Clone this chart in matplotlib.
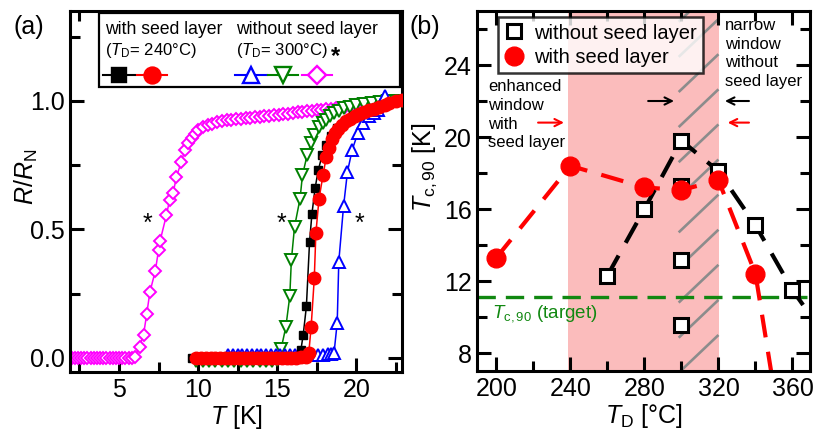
import numpy as np
import matplotlib
matplotlib.use("Agg")
import matplotlib.pyplot as plt
from matplotlib.ticker import MultipleLocator
from matplotlib.lines import Line2D
from matplotlib.patches import Rectangle

plt.rcParams['font.family'] = ['Liberation Sans', 'DejaVu Sans']
plt.rcParams['mathtext.fontset'] = 'custom'
plt.rcParams['mathtext.rm'] = 'Liberation Sans'
plt.rcParams['mathtext.it'] = 'Liberation Sans:italic'
plt.rcParams['mathtext.bf'] = 'Liberation Sans:bold'

# ---- panel (a): R/R_N vs T ----
# with seed layer (T_D = 240 C)
T_sq = [9.6, 10.0, 10.4, 10.8, 11.2, 11.6, 12.0, 12.4, 12.8, 13.2, 13.6, 14.0, 14.4, 14.8,
        15.2, 15.6, 16.0, 16.3, 16.5, 16.65, 16.85, 17.05, 17.2, 17.4, 17.6, 17.85, 18.1,
        18.4, 18.8, 19.3, 19.8, 20.4, 21.0, 21.6, 22.2, 22.9]
R_sq = [0.0, 0.0, 0.0, 0.0, 0.0, 0.0, 0.0, 0.0, 0.0, 0.0, 0.0, 0.0, 0.0, 0.0,
        0.0, 0.0, 0.0, 0.005, 0.03, 0.09, 0.2, 0.45, 0.56, 0.66, 0.73, 0.79, 0.83,
        0.865, 0.895, 0.92, 0.94, 0.957, 0.972, 0.985, 0.995, 1.005]

T_ci = [9.9, 10.2, 10.5, 10.8, 11.1, 11.4, 11.7, 12.0, 12.3, 12.6, 12.9, 13.2, 13.5, 13.8,
        14.1, 14.4, 14.7, 15.0, 15.3, 15.6, 15.9, 16.2, 16.5, 16.8, 17.0, 17.15, 17.35,
        17.45, 17.65, 17.9, 18.1, 18.25, 18.45, 18.65, 18.85, 19.1, 19.35, 19.6, 19.9,
        20.2, 20.5, 20.8, 21.1, 21.45, 21.8, 22.1, 22.5, 22.9]
R_ci = [0.0, 0.0, 0.0, 0.0, 0.0, 0.0, 0.0, 0.0, 0.0, 0.0, 0.0, 0.0, 0.0, 0.0,
        0.0, 0.0, 0.0, 0.0, 0.0, 0.0, 0.0, 0.0, 0.002, 0.005, 0.018, 0.12, 0.31,
        0.485, 0.62, 0.71, 0.78, 0.815, 0.85, 0.874, 0.89, 0.905, 0.92, 0.93, 0.94,
        0.948, 0.955, 0.963, 0.97, 0.978, 0.985, 0.992, 0.998, 1.005]

# without seed layer (T_D = 300 C)
T_up = [11.9, 12.2, 12.5, 12.8, 13.1, 13.4, 13.7, 14.0, 14.3, 14.6, 14.9, 15.2, 15.5,
        15.8, 16.1, 16.4, 16.7, 17.0, 17.3, 17.6, 17.9, 18.2, 18.4, 18.6, 18.8, 18.9,
        19.2, 19.45, 19.75, 20.1, 20.4, 20.8, 21.1, 21.35, 21.6, 21.85]
R_up = [0.01, 0.01, 0.01, 0.01, 0.01, 0.01, 0.01, 0.01, 0.01, 0.01, 0.01, 0.01, 0.01,
        0.01, 0.01, 0.01, 0.01, 0.01, 0.01, 0.012, 0.012, 0.014, 0.016, 0.02, 0.137, 0.375,
        0.59, 0.725, 0.81, 0.874, 0.913, 0.94, 0.952, 0.965, 0.99, 1.02]

T_dn = [9.9, 10.3, 10.7, 11.1, 11.5, 11.9, 12.3, 12.7, 13.1, 13.5, 13.9, 14.3, 14.7,
        15.0, 15.25, 15.55, 15.8, 15.9, 16.1, 16.45, 16.6, 16.9, 17.15, 17.35, 17.65,
        17.9, 18.1, 18.35, 18.6, 18.9, 19.25, 19.6, 20.0, 20.5, 21.0, 21.5, 22.0, 22.5, 22.9]
R_dn = [-0.013, -0.013, -0.013, -0.013, -0.013, -0.013, -0.013, -0.013, -0.013, -0.013,
        -0.013, -0.013, -0.013, -0.01, 0.035, 0.12, 0.24, 0.38, 0.51, 0.62, 0.71, 0.79,
        0.835, 0.868, 0.9, 0.915, 0.926, 0.94, 0.952, 0.962, 0.971, 0.978, 0.984, 0.988,
        0.992, 0.995, 0.998, 1.0, 1.0]

T_di = [2.0, 2.2, 2.4, 2.6, 2.8, 3.0, 3.2, 3.4, 3.6, 3.8, 4.0, 4.2, 4.4, 4.6, 4.8, 5.0,
        5.2, 5.4, 5.6, 5.8, 6.0, 6.3, 6.55, 6.75, 6.95, 7.3, 7.5, 7.6, 8.0, 8.2, 8.42,
        8.63, 8.95, 9.16, 9.37, 9.6, 9.8, 10.0, 10.3, 10.6, 10.9, 11.2, 11.5, 11.8, 12.1,
        12.4, 12.7, 13.0, 13.3, 13.6, 13.9, 14.2, 14.5, 14.8, 15.1, 15.4, 15.7, 16.0,
        16.3, 16.6, 16.9, 17.2, 17.5, 17.8, 18.1, 18.4, 18.7, 19.0, 19.3, 19.6, 19.9]
R_di = [0.0, 0.0, 0.0, 0.0, 0.0, 0.0, 0.0, 0.0, 0.0, 0.0, 0.0, 0.0, 0.0, 0.0, 0.0, 0.0,
        0.0, 0.0, 0.0, 0.0, 0.005, 0.044, 0.09, 0.17, 0.255, 0.34, 0.42, 0.456, 0.556,
        0.615, 0.64, 0.705, 0.764, 0.81, 0.835, 0.855, 0.87, 0.885, 0.897, 0.906, 0.912,
        0.917, 0.921, 0.924, 0.927, 0.929, 0.931, 0.933, 0.935, 0.937, 0.939, 0.941,
        0.943, 0.945, 0.947, 0.949, 0.951, 0.953, 0.955, 0.957, 0.959, 0.961, 0.963,
        0.965, 0.967, 0.969, 0.971, 0.973, 0.976, 0.979, 0.983]

# ---- panel (b): Tc,90 vs T_D ----
TD_noseed = [260, 280, 300, 300, 300, 300, 320, 340, 360]
Tc_noseed = [12.3, 16.0, 19.8, 17.3, 13.15, 9.55, 18.1, 15.1, 11.5]
TD_noseed_trend = [260, 280, 300, 320, 340, 360, 380]
Tc_noseed_trend = [12.3, 16.0, 19.8, 18.1, 15.1, 11.5, 8.6]

TD_seed = [200, 240, 280, 300, 320, 340]
Tc_seed = [13.3, 18.4, 17.2, 17.05, 17.6, 12.4]
TD_seed_trend = [200, 240, 280, 300, 320, 340, 350]
Tc_seed_trend = [13.3, 18.4, 17.2, 17.05, 17.6, 12.4, 6.0]

Tc_target = 11.1
window_seed = (238.5, 320.5)
window_noseed = (298.5, 320.0)

fig = plt.figure(figsize=(8.15, 4.3), dpi=100)
axa = fig.add_axes([0.0859, 0.1349, 0.4074, 0.8395])
axb = fig.add_axes([0.5853, 0.1372, 0.4086, 0.8372])

for ax in (axa, axb):
    for s in ax.spines.values():
        s.set_linewidth(2.2)
    ax.tick_params(which='both', direction='in', top=True, right=True,
                   labelsize=18, pad=4, width=2.2)
    ax.tick_params(which='major', length=10)
    ax.tick_params(which='minor', length=7)

# panel (a)
lw = 1.1
axa.plot(T_di, R_di, '-', color='#ff00ff', lw=lw, marker='D', ms=6.5, mfc='white',
         mec='#ff00ff', mew=1.4, zorder=2)
axa.plot(T_dn, R_dn, '-', color='#008000', lw=lw, marker='v', ms=8.5, mfc='white',
         mec='#008000', mew=1.4, zorder=3)
axa.plot(T_up, R_up, '-', color='#0000ff', lw=lw, marker='^', ms=8.5, mfc='white',
         mec='#0000ff', mew=1.4, zorder=3)
axa.plot(T_sq, R_sq, '-', color='black', lw=lw, marker='s', ms=6, mfc='black',
         mec='black', zorder=4)
axa.plot(T_ci, R_ci, '-', color='#ff0000', lw=lw, marker='o', ms=9, mfc='#ff0000',
         mec='#ff0000', zorder=5)

axa.set_xlim(1.9, 22.9)
axa.set_ylim(-0.055, 1.35)
axa.xaxis.set_major_locator(MultipleLocator(5))
axa.xaxis.set_minor_locator(MultipleLocator(2.5))
axa.yaxis.set_major_locator(MultipleLocator(0.5))
axa.yaxis.set_minor_locator(MultipleLocator(0.25))
axa.yaxis.set_major_formatter(matplotlib.ticker.FormatStrFormatter('%.1f'))
axa.set_xlabel(r'$T$ [K]', fontsize=18, labelpad=1)
axa.set_ylabel(r'$R/R_{\rm N}$', fontsize=18)
axa.yaxis.set_label_coords(-0.09, 0.54)

for tx, ty in [(6.8, 0.52), (15.3, 0.52), (20.2, 0.52)]:
    axa.text(tx, ty, '*', fontsize=18, ha='center', va='center', zorder=6)

# custom legend box for (a)
axa.add_patch(Rectangle((0.087, 0.789), 0.907, 0.205, transform=axa.transAxes,
                        fill=True, facecolor='white', edgecolor='black', lw=1.6, zorder=7))
fs_leg = 12.7
axa.text(0.105, 0.950, 'with seed layer', transform=axa.transAxes, fontsize=fs_leg,
         va='center', zorder=8)
axa.text(0.105, 0.890, r'($T_{\rm D}$= 240°C)', transform=axa.transAxes, fontsize=12,
         va='center', zorder=8)
axa.text(0.50, 0.950, 'without seed layer', transform=axa.transAxes, fontsize=fs_leg,
         va='center', zorder=8)
axa.text(0.50, 0.890, r'($T_{\rm D}$= 300°C)', transform=axa.transAxes,
         fontsize=12, va='center', zorder=8)
axa.text(0.80, 0.875, '*', transform=axa.transAxes, fontsize=17, fontweight='bold',
         va='center', ha='center', zorder=8)
samples = [((0.099, 0.196), 's', 'black', 'black', 9.5),
           ((0.202, 0.292), 'o', '#ff0000', '#ff0000', 11.5),
           ((0.497, 0.593), '^', '#0000ff', 'white', 11),
           ((0.596, 0.687), 'v', '#008000', 'white', 11),
           ((0.699, 0.789), 'D', '#ff00ff', 'white', 9)]
for (x0, x1), m, c, fc, ms in samples:
    axa.add_line(Line2D([x0, x1], [0.823, 0.823], color=c, lw=1.5,
                        transform=axa.transAxes, zorder=8))
    axa.add_line(Line2D([(x0 + x1) / 2], [0.823], marker=m, ms=ms, mfc=fc, mec=c, mew=1.7,
                        transform=axa.transAxes, zorder=9))

# panel (b)
axb.axvspan(*window_seed, color='#fbbcbc', lw=0, zorder=0)
y0s = np.arange(3.0, 29.0, 1.95)
for y0 in y0s:
    axb.plot(window_noseed, [y0, y0 + 2.1], color='#8c8c8c', lw=1.9, zorder=0.5,
             solid_capstyle='butt')
axb.axhline(Tc_target, color='#118811', lw=2.4, dashes=(5.5, 3), zorder=1)

axb.plot(TD_seed_trend, Tc_seed_trend, color='#ff0000', lw=3, dashes=(5.5, 3.5), zorder=2)
axb.plot(TD_noseed_trend, Tc_noseed_trend, color='black', lw=3, dashes=(5.5, 3.5), zorder=2)
axb.plot(TD_noseed, Tc_noseed, ls='none', marker='s', ms=10.5, mfc='white', mec='black',
         mew=2.2, zorder=3, label='without seed layer')
axb.plot(TD_seed, Tc_seed, ls='none', marker='o', ms=13.5, mfc='#ff0000', mec='#ff0000',
         zorder=4, label='with seed layer')

axb.set_xlim(189.5, 369.5)
axb.set_ylim(7, 27)
axb.xaxis.set_major_locator(MultipleLocator(40))
axb.xaxis.set_minor_locator(MultipleLocator(20))
axb.yaxis.set_major_locator(MultipleLocator(4))
axb.yaxis.set_minor_locator(MultipleLocator(2))
axb.set_xlabel(r'$T_{\rm D}$ [°C]', fontsize=18, labelpad=1)
axb.set_ylabel(r'$T_{\rm c,90}$ [K]', fontsize=18)
axb.yaxis.set_label_coords(-0.115, 0.565)

leg = axb.legend(loc='upper left', bbox_to_anchor=(0.063, 0.982), borderaxespad=0,
                 fontsize=14.5, frameon=True, fancybox=False, handlelength=1.0,
                 handletextpad=0.5, borderpad=0.3, labelspacing=0.25)
leg.get_frame().set_edgecolor('black')
leg.get_frame().set_linewidth(1.8)
leg.set_zorder(10)

axb.text(197.5, 10.2, r'$T_{\rm c,90}$ (target)', color='#118811', fontsize=13.5,
         va='center', ha='left')
axb.text(195.5, 23.2, 'enhanced\nwindow\nwith\nseed layer', fontsize=12, va='top',
         ha='left', linespacing=1.3)
axb.text(323.5, 26.6, 'narrow\nwindow\nwithout\nseed layer', fontsize=12, va='top',
         ha='left', linespacing=1.3)

arrow = dict(arrowstyle='->', lw=1.5, mutation_scale=13)
axb.annotate('', xy=(238.0, 20.8), xytext=(221.0, 20.8),
             arrowprops=dict(arrow, color='#ff0000'))
axb.annotate('', xy=(323.5, 20.8), xytext=(338.0, 20.8),
             arrowprops=dict(arrow, color='#ff0000'))
axb.annotate('', xy=(297.5, 22.0), xytext=(280.5, 22.0),
             arrowprops=dict(arrow, color='black'))
axb.annotate('', xy=(322.0, 22.0), xytext=(338.0, 22.0),
             arrowprops=dict(arrow, color='black'))

fig.text(0.016, 0.937, '(a)', fontsize=18, va='center', ha='left')
fig.text(0.503, 0.937, '(b)', fontsize=18, va='center', ha='left')

fig.savefig('out.png', dpi=100)
